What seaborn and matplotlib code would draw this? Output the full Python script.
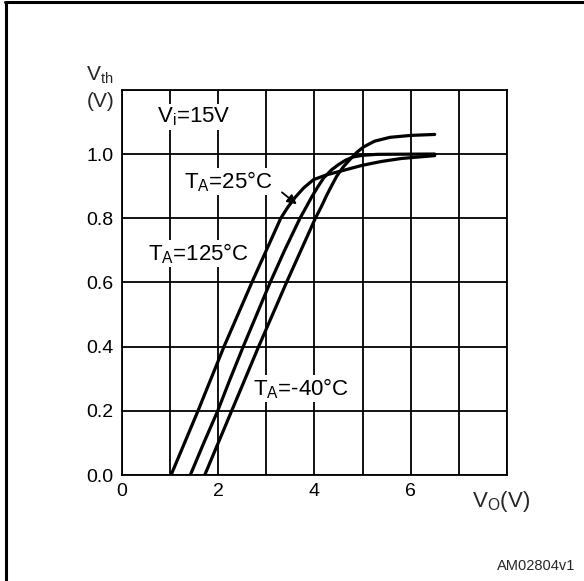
import pandas as pd
import numpy as np
import matplotlib
matplotlib.use('Agg')
from matplotlib import pyplot as plt
from matplotlib.lines import Line2D
import seaborn as sns

# curves, Vo (V) vs Vth (V)
vo_125 = [1.02, 1.30, 1.58, 1.85, 2.12, 2.41, 2.70, 3.00, 3.30, 3.45, 3.60, 3.78, 3.98, 4.25, 4.50, 5.00, 5.40, 5.80, 6.50]
vth_125 = [0.00, 0.10, 0.20, 0.30, 0.40, 0.50, 0.60, 0.70, 0.80, 0.835, 0.865, 0.895, 0.920, 0.935, 0.945, 0.965, 0.977, 0.986, 0.995]

vo_25 = [1.42, 1.70, 1.99, 2.25, 2.52, 2.80, 3.08, 3.38, 3.70, 3.83, 3.95, 4.08, 4.19, 4.35, 4.50, 4.65, 4.81, 5.00, 5.30, 6.50]
vth_25 = [0.00, 0.10, 0.20, 0.30, 0.40, 0.50, 0.60, 0.70, 0.80, 0.835, 0.868, 0.900, 0.925, 0.950, 0.967, 0.981, 0.991, 0.996, 0.999, 1.000]

vo_m40 = [1.72, 2.00, 2.28, 2.56, 2.84, 3.13, 3.42, 3.72, 4.02, 4.14, 4.25, 4.36, 4.46, 4.60, 4.75, 4.88, 5.02, 5.25, 5.57, 6.00, 6.50]
vth_m40 = [0.00, 0.10, 0.20, 0.30, 0.40, 0.50, 0.60, 0.70, 0.80, 0.835, 0.870, 0.902, 0.930, 0.960, 0.985, 1.005, 1.022, 1.040, 1.052, 1.058, 1.061]

x_ticks = [0, 1, 2, 3, 4, 5, 6, 7, 8]
x_labels = ['0', '', '2', '', '4', '', '6', '', '']
y_ticks = [0.0, 0.2, 0.4, 0.6, 0.8, 1.0, 1.2]
y_labels = ['0.0', '0.2', '0.4', '0.6', '0.8', '1.0', '']

df = pd.concat([
    pd.DataFrame({'vo': vo_125, 'vth': vth_125, 'temp': '125'}),
    pd.DataFrame({'vo': vo_25, 'vth': vth_25, 'temp': '25'}),
    pd.DataFrame({'vo': vo_m40, 'vth': vth_m40, 'temp': '-40'}),
], ignore_index=True)

sns.set_style('white')
plt.rcParams['font.family'] = ['Liberation Sans', 'DejaVu Sans']
plt.rcParams['mathtext.default'] = 'regular'

fig = plt.figure(figsize=(5.84, 5.81), dpi=100)
ax = fig.add_axes([0.2089, 0.1824, 0.659, 0.663])

sns.lineplot(data=df, x='vo', y='vth', hue='temp', palette=['black'] * 3,
             sort=False, estimator=None, linewidth=2.3, legend=False, ax=ax, zorder=3)

ax.set_xlim(0, 8)
ax.set_ylim(0, 1.2)
ax.set_xticks(x_ticks)
ax.set_xticklabels(x_labels)
ax.set_yticks(y_ticks)
ax.set_yticklabels(y_labels)
ax.tick_params(length=0, labelsize=14, colors='black', pad=6)
ax.set_xlabel('')
ax.set_ylabel('')
ax.grid(True, color='black', linewidth=1.3)
for s in ax.spines.values():
    s.set_color('black')
    s.set_linewidth(1.3)

lbl = dict(fontsize=16, color='black', va='center', ha='left', zorder=4,
           bbox=dict(facecolor='white', edgecolor='none', pad=1))
ax.text(0.73, 1.115, 'V$_i$=15V', **lbl)
ax.text(1.29, 0.914, 'T$_A$=25°C', **lbl)
ax.text(0.54, 0.69, 'T$_A$=125°C', **lbl)
ax.text(2.72, 0.27, 'T$_A$=-40°C', **lbl)
ax.annotate('', xy=(3.68, 0.838), xytext=(3.28, 0.886),
            arrowprops=dict(arrowstyle='-|>', color='black', lw=1.3, mutation_scale=14),
            zorder=5)

ax.text(-0.46, 1.245, 'V$_{th}$', fontsize=15, ha='center', va='center', clip_on=False)
ax.text(-0.44, 1.165, '(V)', fontsize=15, ha='center', va='center', clip_on=False)
ax.text(7.87, -0.045, 'V$_O$(V)', fontsize=16, ha='center', va='top', clip_on=False)

fig.text(0.986, 0.025, 'AM02804v1', fontsize=10.5, ha='right', va='center')

# frame lines at top and left of the figure
fig.add_artist(Line2D([0.009, 1.0], [0.996, 0.996], color='black', lw=2.2))
fig.add_artist(Line2D([0.011, 0.011], [0.0, 0.996], color='black', lw=2.2))

fig.savefig('out.png', dpi=100)
